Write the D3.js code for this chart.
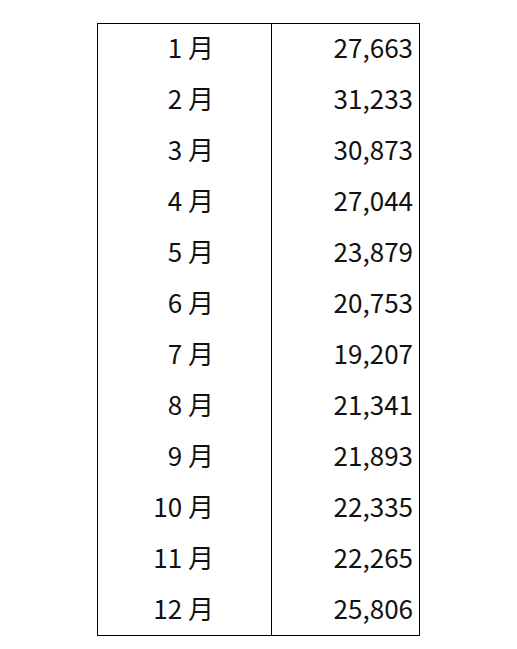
<!DOCTYPE html>
<html lang="ja">
<head>
<meta charset="UTF-8">
<title>月別</title>
<style>
  body { margin: 0; background: #fff; }
  text { font-family: "Noto Sans CJK JP", "Noto Sans", sans-serif; font-size: 26px; fill: #111; }
</style>
</head>
<body>
<svg id="chart" width="517" height="649"></svg>
<script src="https://d3js.org/d3.v7.min.js"></script>
<script>
// table data
const months = ["1 月", "2 月", "3 月", "4 月", "5 月", "6 月", "7 月", "8 月", "9 月", "10 月", "11 月", "12 月"];
const values = [27663, 31233, 30873, 27044, 23879, 20753, 19207, 21341, 21893, 22335, 22265, 25806];

const svg = d3.select("#chart");
const xLeft = 97.5, xMid = 271.5, xRight = 419.5, yTop = 23.5, yBottom = 635.5;

const y = d3.scaleBand().domain(months).range([yTop, yBottom]);
const fmt = d3.format(",");

svg.append("rect")
    .attr("x", xLeft).attr("y", yTop)
    .attr("width", xRight - xLeft).attr("height", yBottom - yTop)
    .attr("fill", "none").attr("stroke", "#000").attr("stroke-width", 1);

svg.append("line")
    .attr("x1", xMid).attr("x2", xMid).attr("y1", yTop).attr("y2", yBottom)
    .attr("stroke", "#000").attr("stroke-width", 1);

const rows = svg.selectAll("g.row")
    .data(months)
    .enter().append("g")
    .attr("class", "row")
    .attr("transform", d => `translate(0,${y(d) + y.bandwidth() / 2})`);

rows.append("text")
    .attr("x", 214)
    .attr("dy", "0.35em")
    .attr("text-anchor", "end")
    .text(d => d);

rows.append("text")
    .attr("x", 413)
    .attr("dy", "0.35em")
    .attr("text-anchor", "end")
    .text((d, i) => fmt(values[i]));
</script>
</body>
</html>
